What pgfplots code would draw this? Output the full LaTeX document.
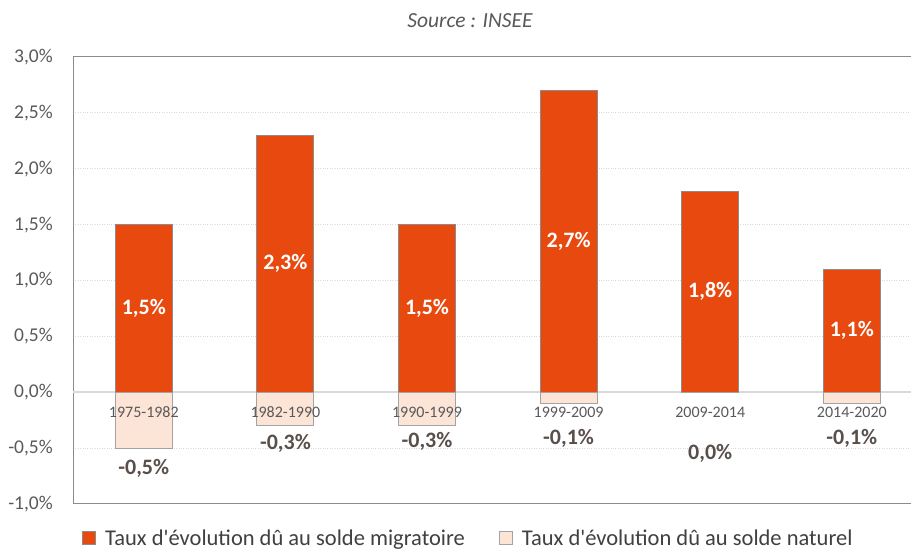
\documentclass[border=0pt]{standalone}
\usepackage{pgfplots}
\pgfplotsset{compat=1.18}
\usepackage{pgfplotstable}
\usepackage{fontspec}
\setmainfont{Carlito}
\newfontfamily\legfont{Carlito}
\definecolor{orangebar}{HTML}{E8490F}
\definecolor{lightbar}{HTML}{FCE4D6}
\definecolor{barline}{HTML}{8C8C8C}
\definecolor{axgray}{HTML}{8C8C8C}
\definecolor{gridgray}{HTML}{D9D9D9}
\definecolor{txtgray}{HTML}{595959}
\definecolor{lblgray}{HTML}{594F4A}
\definecolor{legtext}{HTML}{404040}
\pgfplotsset{sqlegend/.style={legend image code/.code={\draw[##1] (0pt,-6.5pt) rectangle (13pt,6.5pt); \path (20pt,0pt);}}}

\pgfplotstableread{
x y lab
0 1.5 {1,5\%}
1 2.3 {2,3\%}
2 1.5 {1,5\%}
3 2.7 {2,7\%}
4 1.8 {1,8\%}
5 1.1 {1,1\%}
}\migdata

\pgfplotstableread{
x y lab off
0 -0.5 {-0,5\%} 20
1 -0.3 {-0,3\%} 18
2 -0.3 {-0,3\%} 16
3 -0.1 {-0,1\%} 35
4 0.0 {0,0\%} 61
5 -0.1 {-0,1\%} 35
}\natdata

\pgfplotstableread{
x y cat
0 0 1975-1982
1 0 1982-1990
2 0 1990-1999
3 0 1999-2009
4 0 2009-2014
5 0 2014-2020
}\catdata

\begin{document}
\begin{tikzpicture}
\useasboundingbox (0,0) rectangle (911pt,551pt);
\node[font=\itshape\fontsize{21.5}{24}\selectfont, text=txtgray] at (470pt,530pt) {Source : INSEE};
\begin{axis}[
  at={(73pt,47pt)}, anchor=south west,
  scale only axis, width=840pt, height=447pt,
  xmin=-0.5, xmax=5.432, ymin=-1, ymax=3,
  axis line style={axgray, line width=1pt},
  xtick={0,1,2,3,4,5},
  xticklabels={},
  ytick={-1,-0.5,0,0.5,1,1.5,2,2.5,3},
  yticklabels={{-1,0\%},{-0,5\%},{0,0\%},{0,5\%},{1,0\%},{1,5\%},{2,0\%},{2,5\%},{3,0\%}},
  yticklabel style={anchor=east, inner sep=0pt, xshift=-20pt, font=\fontsize{19.5}{22}\selectfont, text=txtgray},
  major tick length=0pt,
  ymajorgrids, grid style={gridgray, dotted, line width=1pt},
  extra y ticks={0}, extra y tick labels={},
  extra y tick style={grid style={gridgray, solid, line width=1.5pt}},
  legend columns=2,
  legend style={at={(0.0107,-0.0770)}, anchor=west, draw=none, fill=none, inner sep=0pt,
    font=\legfont\fontsize{22.5}{25}\selectfont, text=legtext,
    /tikz/every even column/.append style={column sep=32pt}},
  legend cell align=left,
]
\addplot[ybar, bar width=57pt, bar shift=0pt, fill=orangebar, draw=barline, line width=1pt,
  sqlegend,
  nodes near coords, point meta=explicit symbolic,
  visualization depends on={rawy \as \ry},
  every node near coord/.append style={anchor=center, yshift={-55.875*\ry}, text=white, font=\bfseries\fontsize{22}{24}\selectfont}]
  table[x=x, y=y, meta=lab] {\migdata};
\addlegendentry{Taux d'évolution dû au solde migratoire}
\addplot[ybar, bar width=57pt, bar shift=0pt, fill=lightbar, draw=barline!80, line width=1pt,
  sqlegend,
  nodes near coords, point meta=explicit symbolic,
  visualization depends on={\thisrow{off} \as \off},
  every node near coord/.append style={anchor=center, yshift={-\off}, text=lblgray, font=\bfseries\fontsize{22}{24}\selectfont}]
  table[x=x, y=y, meta=lab] {\natdata};
\addlegendentry{Taux d'évolution dû au solde naturel}
\addplot[draw=none, mark=none, forget plot,
  nodes near coords, point meta=explicit symbolic,
  every node near coord/.append style={anchor=center, yshift=-20pt, inner sep=0pt, text=txtgray, font=\fontsize{16}{18}\selectfont}]
  table[x=x, y=y, meta=cat] {\catdata};
\end{axis}
\end{tikzpicture}
\end{document}
